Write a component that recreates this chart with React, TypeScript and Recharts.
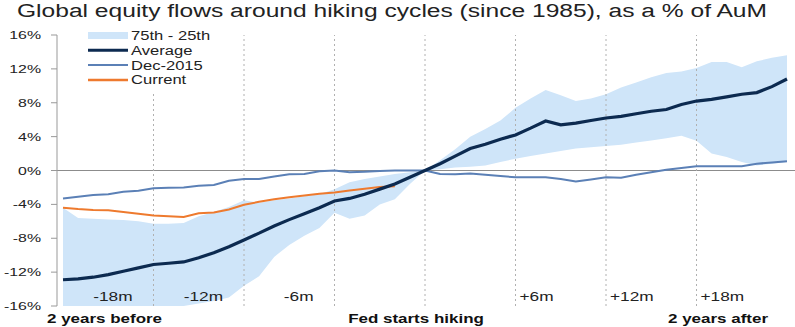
import React from "react";
import {
  ComposedChart,
  Area,
  Line,
  XAxis,
  YAxis,
  ReferenceLine,
  Legend,
} from "recharts";

// months relative to the first Fed hike
const months = [
  -24, -23, -22, -21, -20, -19, -18, -17, -16, -15, -14, -13, -12, -11, -10, -9,
  -8, -7, -6, -5, -4, -3, -2, -1, 0, 1, 2, 3, 4, 5, 6, 7, 8, 9, 10, 11, 12, 13,
  14, 15, 16, 17, 18, 19, 20, 21, 22, 23, 24,
];

// cumulative flows, % of AuM
const average = [
  -12.9, -12.8, -12.6, -12.3, -11.9, -11.5, -11.1, -10.95, -10.8, -10.3, -9.7,
  -9.0, -8.2, -7.4, -6.55, -5.8, -5.1, -4.4, -3.6, -3.3, -2.8, -2.2, -1.6, -0.8,
  0, 0.8, 1.7, 2.6, 3.1, 3.7, 4.2, 5.0, 5.85, 5.4, 5.6, 5.9, 6.2, 6.4, 6.7, 7.0,
  7.2, 7.8, 8.2, 8.4, 8.7, 9.0, 9.2, 9.9, 10.8,
];

const dec2015 = [
  -3.3, -3.1, -2.9, -2.8, -2.5, -2.4, -2.1, -2.05, -2.0, -1.8, -1.7, -1.2, -1.0,
  -1.0, -0.7, -0.45, -0.4, -0.1, 0, -0.2, -0.15, -0.05, 0, 0, 0, -0.4, -0.45,
  -0.35, -0.5, -0.65, -0.8, -0.8, -0.8, -1.0, -1.3, -1.05, -0.8, -0.85, -0.5,
  -0.2, 0.1, 0.3, 0.5, 0.5, 0.5, 0.5, 0.8, 0.95, 1.1,
];

// current cycle, -24m to -2m
const current = [
  -4.4, -4.55, -4.65, -4.7, -4.9, -5.1, -5.3, -5.4, -5.5, -5.05, -4.95, -4.6,
  -4.05, -3.7, -3.4, -3.15, -2.95, -2.75, -2.6, -2.35, -2.15, -1.95, -1.85,
];

const pct75 = [
  -4.4, -5.6, -5.7, -5.8, -5.85, -6.0, -6.3, -6.3, -6.2, -5.4, -4.9, -4.3,
  -3.5, -3.8, -3.5, -3.3, -3.05, -2.8, -2.2, -1.4, -1.0, -0.7, -0.4, -0.2, 0,
  1.2, 2.5, 4.0, 4.9, 5.9, 7.4, 8.5, 9.5, 8.9, 8.2, 8.5, 9.0, 9.8, 10.4, 11.0,
  11.5, 11.7, 12.1, 12.8, 12.8, 12.2, 12.9, 13.3, 13.6,
];

const pct25 = [
  -16, -16, -16, -16, -16, -16, -16, -16, -16, -15.7, -15.4, -15.0, -13.6,
  -12.5, -10.2, -8.8, -7.7, -6.8, -5.0, -5.7, -5.3, -4.0, -3.4, -1.6, 0, 0.15,
  0.35, 0.45, 0.6, 1.0, 1.4, 1.7, 2.0, 2.3, 2.6, 2.75, 2.9, 3.05, 3.3, 3.55,
  3.8, 4.1, 3.5, 2.0, 1.6, 1.0, 0.6, 0.8, 1.0,
];

const yTicks = [16, 12, 8, 4, 0, -4, -8, -12, -16];
const markers = [-18, -12, -6, 0, 6, 12, 18];
const markerText: Record<number, string> = {
  [-18]: "-18m",
  [-12]: "-12m",
  [-6]: "-6m",
  6: "+6m",
  12: "+12m",
  18: "+18m",
};
const edgeTicks = [-24, 0, 24];
const edgeText: Record<number, string> = {
  [-24]: "2 years before",
  0: "Fed starts hiking",
  24: "2 years after",
};

const FONT = '"Liberation Sans", Arial, Helvetica, sans-serif';
const SX = 1.38; // the source image is stretched sideways
const BAND = "#cfe5f9";
const AVG = "#0c2a50";
const DEC = "#5b80b6";
const CUR = "#ee7a2e";

const data = months.map((m, i) => ({
  m,
  avg: average[i],
  dec: dec2015[i],
  cur: i < current.length ? current[i] : null,
  band: [pct25[i], pct75[i]],
}));

const YTick = ({ x, y, payload }: any) => (
  <text
    transform={`translate(${x - 8},${y + 4}) scale(${SX},1)`}
    textAnchor="end"
    fontSize={11.5}
    fontFamily={FONT}
    fill="#222"
  >
    {payload.value}%
  </text>
);

const EdgeTick = ({ x, y, payload }: any) => {
  const v = payload.value;
  const anchor = v < 0 ? "start" : v > 0 ? "end" : "middle";
  const dx = v < 0 ? -16 : v > 0 ? -19 : -9;
  return (
    <text
      transform={`translate(${x + dx},${y + 9}) scale(${SX},1)`}
      textAnchor={anchor}
      fontSize={12.3}
      fontWeight="bold"
      fontFamily={FONT}
      fill="#111"
    >
      {edgeText[v]}
    </text>
  );
};

const MarkerLabel = ({ viewBox, m }: any) => {
  const text = markerText[m];
  if (!text || !viewBox) return null;
  const bottom = viewBox.y + viewBox.height;
  const neg = m < 0;
  return (
    <text
      transform={`translate(${viewBox.x + (neg ? -21 : 4)},${bottom - 5}) scale(${SX},1)`}
      textAnchor={neg ? "end" : "start"}
      fontSize={12.5}
      fontFamily={FONT}
      fill="#222"
    >
      {text}
    </text>
  );
};

const legendRows = [
  { name: "75th - 25th", kind: "band", color: BAND },
  { name: "Average", kind: "line", color: AVG, width: 3 },
  { name: "Dec-2015", kind: "line", color: DEC, width: 2 },
  { name: "Current", kind: "line", color: CUR, width: 2.5 },
];

const LegendBox = () => (
  <div style={{ background: "#fff", width: 136, height: 64 }}>
    <svg width={136} height={64}>
      {legendRows.map((r, i) => {
        const cy = 7.5 + i * 14.8;
        return (
          <g key={r.name}>
            {r.kind === "band" ? (
              <rect x={4} y={cy - 3.5} width={40} height={7} fill={r.color} />
            ) : (
              <line
                x1={4}
                x2={44}
                y1={cy}
                y2={cy}
                stroke={r.color}
                strokeWidth={r.width}
              />
            )}
            <text
              transform={`translate(47,${cy + 4.5}) scale(${SX},1)`}
              fontSize={12}
              fontFamily={FONT}
              fill="#222"
            >
              {r.name}
            </text>
          </g>
        );
      })}
    </svg>
  </div>
);

export default function App() {
  return (
    <div
      style={{
        position: "absolute",
        left: 0,
        top: 0,
        width: 795,
        height: 327,
        background: "#fff",
      }}
    >
      <ComposedChart
        width={795}
        height={327}
        data={data}
        margin={{ top: 35, right: 0, left: 0, bottom: 0 }}
      >
        <XAxis
          dataKey="m"
          type="number"
          domain={[-24, 24]}
          ticks={edgeTicks}
          padding={{ left: 6, right: 8 }}
          height={21}
          axisLine={false}
          tickLine={false}
          tick={<EdgeTick />}
          interval={0}
        />
        <YAxis
          domain={[-16, 16]}
          ticks={yTicks}
          width={57}
          allowDataOverflow
          axisLine={{ stroke: "#999" }}
          tickLine={{ stroke: "#999" }}
          tickSize={6}
          tick={<YTick />}
          interval={0}
        />
        <Area
          dataKey="band"
          type="linear"
          stroke="none"
          fill={BAND}
          fillOpacity={1}
          isAnimationActive={false}
          legendType="none"
        />
        <ReferenceLine y={0} stroke="#8c8c8c" strokeWidth={1.2} />
        {markers.map((m) => (
          <ReferenceLine
            key={m}
            x={m}
            stroke="#b0b0b0"
            strokeDasharray="2 3"
            label={<MarkerLabel m={m} />}
          />
        ))}
        <Line
          dataKey="dec"
          type="linear"
          stroke={DEC}
          strokeWidth={2}
          dot={false}
          isAnimationActive={false}
        />
        <Line
          dataKey="cur"
          type="linear"
          stroke={CUR}
          strokeWidth={2}
          dot={false}
          isAnimationActive={false}
        />
        <Line
          dataKey="avg"
          type="linear"
          stroke={AVG}
          strokeWidth={3.2}
          dot={false}
          isAnimationActive={false}
        />
        <Legend
          layout="vertical"
          verticalAlign="middle"
          align="center"
          content={<LegendBox />}
          wrapperStyle={{ top: 28, left: 84, width: 136, height: 64 }}
        />
      </ComposedChart>
      <svg
        width={795}
        height={30}
        style={{ position: "absolute", left: 0, top: 0, pointerEvents: "none" }}
      >
        <text
          x={17}
          y={17}
          fontSize={18}
          fontFamily={FONT}
          fill="#222"
          textLength={750}
          lengthAdjust="spacingAndGlyphs"
        >
          Global equity flows around hiking cycles (since 1985), as a % of AuM
        </text>
      </svg>
    </div>
  );
}
